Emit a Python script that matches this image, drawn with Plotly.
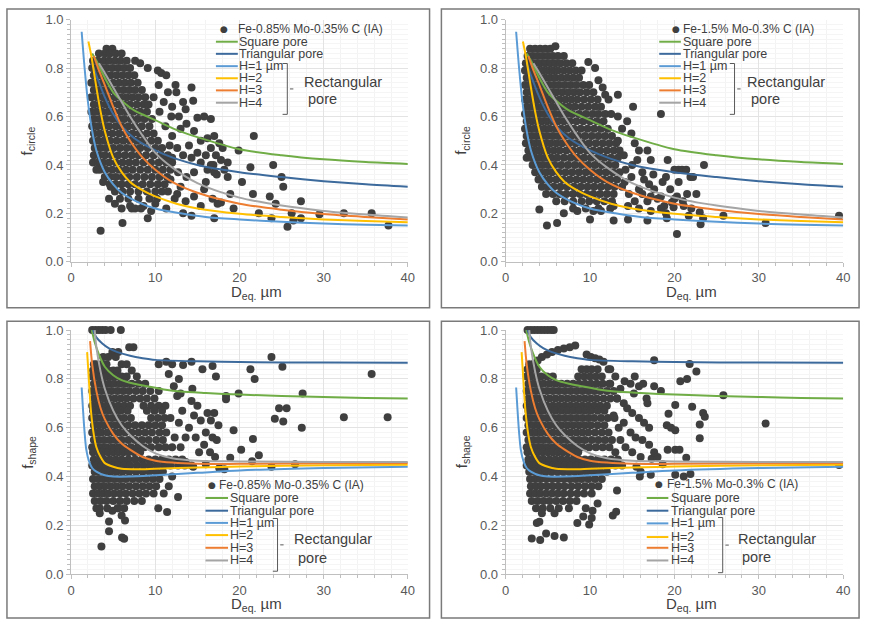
import plotly.graph_objects as go

# ---------------- data ----------------
# Top-left: f_circle, Fe-0.85% Mo-0.35% C (IA)
tl_blob_rows = [
    (0.88, [4.2, 4.9]),
    (0.86, [3.3, 4.0, 4.6, 5.3, 6.0]),
    (0.83, [2.6, 3.2, 3.9, 4.5, 5.2, 5.9, 6.6, 7.6]),
    (0.80, [2.5, 3.0, 3.6, 4.2, 4.9, 5.6, 6.3, 7.0]),
    (0.77, [2.7, 3.3, 4.0, 4.7, 5.4, 6.1, 6.8, 7.5]),
    (0.74, [2.4, 3.0, 3.7, 4.3, 5.0, 5.7, 6.4, 7.1, 7.9]),
    (0.71, [2.7, 3.4, 4.1, 4.8, 5.5, 6.2, 6.9, 7.6, 8.4]),
    (0.68, [2.4, 3.1, 3.8, 4.4, 5.2, 5.9, 6.6, 7.3, 8.0, 8.8]),
    (0.65, [2.7, 3.4, 4.1, 4.8, 5.6, 6.3, 7.0, 7.8, 8.6, 9.2]),
    (0.62, [2.4, 3.0, 3.7, 4.4, 5.1, 5.9, 6.6, 7.4, 8.2, 9.0]),
    (0.59, [2.7, 3.4, 4.1, 4.9, 5.6, 6.3, 7.1, 7.9, 8.7, 9.6]),
    (0.56, [2.5, 3.1, 3.8, 4.5, 5.3, 6.0, 6.8, 7.6, 8.4, 9.3]),
    (0.53, [2.7, 3.4, 4.1, 4.9, 5.7, 6.5, 7.3, 8.1, 9.0, 9.8]),
    (0.50, [2.6, 3.2, 3.9, 4.6, 5.4, 6.2, 7.0, 7.8, 8.6, 9.5, 10.3]),
    (0.47, [2.8, 3.5, 4.2, 5.0, 5.8, 6.6, 7.4, 8.2, 9.1, 10.0, 10.8]),
    (0.44, [2.7, 3.3, 4.0, 4.8, 5.6, 6.4, 7.2, 8.0, 8.9, 9.8, 10.7, 11.5]),
    (0.41, [2.6, 3.2, 3.8, 4.5, 5.3, 6.1, 6.9, 7.7, 8.6, 9.5, 10.4, 11.3, 12.0]),
    (0.38, [3.4, 4.1, 4.9, 5.7, 6.5, 7.3, 8.2, 9.1, 10.0, 10.9, 11.8]),
    (0.35, [4.0, 4.6, 5.3, 6.1, 6.9, 7.8, 8.7, 9.6, 10.5, 11.4]),
    (0.32, [4.6, 5.3, 6.0, 6.8, 7.6, 8.5, 9.4, 10.3, 11.1]),
    (0.29, [5.2, 6.1, 7.0, 8.0, 9.0, 10.0, 10.8]),
    (0.26, [5.8, 6.8, 8.0, 9.3, 10.2]),
    (0.23, [7.0, 8.6]),
]
tl_extra = [
    (8.2, 0.82), (9.1, 0.80), (10.3, 0.79), (10.7, 0.78), (11.3, 0.77), (10.4, 0.73), (11.5, 0.70),
    (12.4, 0.73), (12.5, 0.70), (13.3, 0.66), (14.3, 0.72), (14.5, 0.665), (12.0, 0.64), (11.0, 0.66),
    (13.7, 0.57), (14.6, 0.54), (15.0, 0.595), (15.8, 0.60), (16.6, 0.59), (15.4, 0.50), (16.2, 0.51),
    (17.0, 0.52), (17.6, 0.49), (16.6, 0.47), (17.8, 0.42), (18.2, 0.38), (17.0, 0.37), (16.2, 0.38),
    (15.4, 0.41), (13.3, 0.44), (14.3, 0.43), (14.6, 0.37), (13.7, 0.35), (12.7, 0.37), (18.6, 0.35),
    (15.8, 0.30), (14.6, 0.27), (15.4, 0.23), (12.3, 0.26), (11.5, 0.29), (13.0, 0.31), (12.6, 0.47),
    (12.0, 0.52), (11.2, 0.56), (13.0, 0.55), (3.5, 0.128), (6.1, 0.16), (9.1, 0.18), (4.5, 0.26),
    (4.7, 0.31), (7.2, 0.22), (7.6, 0.22), (11.3, 0.22), (13.3, 0.20), (14.3, 0.19), (17.0, 0.18),
    (17.8, 0.245), (18.9, 0.28), (19.3, 0.22), (19.9, 0.46), (20.3, 0.33), (21.7, 0.52), (21.3, 0.39),
    (21.6, 0.28), (22.3, 0.20), (23.6, 0.27), (23.8, 0.18), (24.0, 0.40), (24.3, 0.24), (25.0, 0.35),
    (25.2, 0.31), (25.7, 0.145), (26.2, 0.20), (26.4, 0.17), (27.3, 0.25), (27.3, 0.18), (29.5, 0.196),
    (32.4, 0.20), (35.7, 0.20), (37.7, 0.15), (9.8, 0.68), (10.5, 0.62), (12.8, 0.60), (16.6, 0.40),
    (17.3, 0.36), (16.0, 0.33), (14.0, 0.48), (15.0, 0.45), (16.0, 0.44), (17.2, 0.44), (18.6, 0.41),
    (18.0, 0.47), (12.0, 0.43), (11.8, 0.34), (12.6, 0.28), (13.6, 0.25), (16.8, 0.26), (17.4, 0.24),
    (10.0, 0.24), (9.5, 0.21), (8.3, 0.22), (5.2, 0.24), (6.0, 0.22), (3.0, 0.38), (3.8, 0.33),
    (16.9, 0.40), (10.9, 0.42), (11.7, 0.48), (13.6, 0.63), (11.9, 0.60),
]

# Top-right: f_circle, Fe-1.5% Mo-0.3% C (IA)
tr_blob_rows = [
    (0.88, [2.9, 3.5, 4.1, 4.7, 5.3]),
    (0.85, [2.6, 3.2, 3.8, 4.4, 5.0, 5.6, 6.2, 6.9]),
    (0.82, [2.4, 2.9, 3.5, 4.1, 4.7, 5.3, 5.9, 6.5, 7.2, 7.9]),
    (0.79, [2.3, 2.7, 3.2, 3.8, 4.4, 5.0, 5.6, 6.2, 6.9, 7.6, 8.3, 9.0]),
    (0.76, [2.5, 3.0, 3.5, 4.1, 4.7, 5.3, 5.9, 6.6, 7.3, 8.0, 8.7]),
    (0.73, [2.3, 2.8, 3.3, 3.9, 4.5, 5.1, 5.7, 6.3, 7.0, 7.7, 8.4, 9.2, 9.9]),
    (0.70, [2.5, 3.1, 3.6, 4.2, 4.8, 5.4, 6.0, 6.7, 7.4, 8.1, 8.8, 9.6, 10.4]),
    (0.67, [2.3, 2.8, 3.4, 3.9, 4.5, 5.1, 5.7, 6.4, 7.1, 7.8, 8.5, 9.3, 10.1, 10.9]),
    (0.64, [2.5, 3.1, 3.7, 4.3, 4.9, 5.5, 6.1, 6.8, 7.5, 8.2, 9.0, 9.8, 10.6, 11.3]),
    (0.61, [2.3, 2.8, 3.4, 4.0, 4.6, 5.2, 5.8, 6.5, 7.2, 7.9, 8.7, 9.5, 10.3, 11.0, 11.8]),
    (0.58, [2.5, 3.1, 3.7, 4.3, 4.9, 5.5, 6.2, 6.9, 7.6, 8.4, 9.2, 10.0, 10.8, 11.6]),
    (0.55, [2.3, 2.8, 3.4, 4.0, 4.6, 5.2, 5.9, 6.6, 7.3, 8.1, 8.9, 9.7, 10.5, 11.3, 12.1]),
    (0.52, [2.5, 3.1, 3.7, 4.3, 4.9, 5.6, 6.3, 7.0, 7.8, 8.6, 9.4, 10.2, 11.0, 11.8, 12.6]),
    (0.49, [2.4, 2.9, 3.5, 4.1, 4.7, 5.3, 6.0, 6.7, 7.5, 8.3, 9.1, 9.9, 10.7, 11.5, 12.3, 13.1]),
    (0.46, [2.7, 3.2, 3.8, 4.4, 5.0, 5.7, 6.4, 7.2, 8.0, 8.8, 9.6, 10.4, 11.2, 12.0, 12.8, 13.5]),
    (0.43, [2.5, 3.0, 3.5, 4.1, 4.7, 5.4, 6.1, 6.9, 7.7, 8.5, 9.3, 10.1, 10.9, 11.7, 12.5, 13.3]),
    (0.40, [3.2, 3.8, 4.4, 5.1, 5.8, 6.6, 7.4, 8.2, 9.0, 9.8, 10.6, 11.4, 12.2, 13.0]),
    (0.37, [3.5, 4.1, 4.8, 5.5, 6.3, 7.1, 7.9, 8.7, 9.5, 10.3, 11.1, 11.9, 12.7, 13.5]),
    (0.34, [3.9, 4.5, 5.2, 6.0, 6.8, 7.6, 8.4, 9.2, 10.0, 10.8, 11.6, 12.4, 13.2]),
    (0.31, [4.3, 5.0, 5.7, 6.5, 7.3, 8.1, 8.9, 9.7, 10.5, 11.3, 12.1, 12.9]),
    (0.28, [4.8, 5.6, 6.4, 7.2, 8.0, 8.8, 9.6, 10.4, 11.2, 12.0, 12.8]),
    (0.25, [6.0, 7.0, 8.0, 9.0, 9.9, 10.8, 11.7, 12.6]),
    (0.22, [8.0, 9.5, 11.0, 12.4]),
]
tr_extra = [
    (5.9, 0.89), (9.8, 0.825), (11.0, 0.75), (11.8, 0.69), (12.5, 0.61), (13.3, 0.69), (13.3, 0.60),
    (15.1, 0.64), (18.4, 0.61), (14.9, 0.53), (13.3, 0.50), (15.3, 0.49), (15.8, 0.46), (16.8, 0.46),
    (15.6, 0.42), (17.2, 0.42), (19.2, 0.42), (20.5, 0.38), (20.9, 0.38), (20.5, 0.33), (21.9, 0.35),
    (22.2, 0.35), (23.5, 0.40), (19.0, 0.35), (21.5, 0.28), (22.6, 0.28), (20.3, 0.27), (19.7, 0.245),
    (19.9, 0.225), (21.1, 0.23), (21.7, 0.19), (23.0, 0.205), (23.1, 0.155), (23.4, 0.18), (25.8, 0.19),
    (30.8, 0.16), (39.5, 0.19), (19.1, 0.18), (20.3, 0.115), (16.8, 0.25), (18.0, 0.26), (18.8, 0.23),
    (18.4, 0.27), (15.8, 0.30), (16.4, 0.34), (17.0, 0.32), (17.6, 0.30), (14.9, 0.35), (14.1, 0.33),
    (15.3, 0.25), (14.5, 0.23), (15.8, 0.22), (17.2, 0.21), (18.4, 0.22), (4.9, 0.15), (6.1, 0.16),
    (4.0, 0.216), (6.9, 0.20), (8.5, 0.21), (10.0, 0.175), (10.4, 0.21), (12.8, 0.17), (14.5, 0.175),
    (16.8, 0.17), (14.2, 0.38), (15.0, 0.40), (16.2, 0.37), (17.5, 0.36), (14.6, 0.28), (16.2, 0.28),
    (17.2, 0.27), (14.0, 0.44), (13.8, 0.55), (14.4, 0.58), (12.2, 0.67), (11.5, 0.72), (10.6, 0.80),
    (13.8, 0.31), (12.8, 0.23), (11.3, 0.21), (18.6, 0.33), (19.5, 0.30), (20.0, 0.26), (21.0, 0.25),
    (22.0, 0.22), (19.0, 0.20), (21.4, 0.38), (20.0, 0.38),
]

# Bottom-left: f_shape, Fe-0.85% Mo-0.35% C (IA)
bl_blob_rows = [
    (0.93, [6.9, 7.4]),
    (0.91, [4.9, 5.6]),
    (0.89, [3.8, 4.4, 5.3]),
    (0.86, [2.7, 3.0, 3.6, 4.2, 6.0, 6.6]),
    (0.835, [2.6, 3.2, 3.8, 4.4, 5.0, 5.5, 7.2]),
    (0.81, [2.5, 3.0, 3.6, 4.2, 4.8, 5.4, 6.0, 6.6, 7.8]),
    (0.78, [2.7, 3.3, 3.9, 4.5, 5.1, 5.8, 6.5, 7.2, 8.0, 8.8]),
    (0.75, [2.5, 3.0, 3.6, 4.2, 4.8, 5.5, 6.2, 6.9, 7.7, 8.5, 9.4, 10.4]),
    (0.72, [2.7, 3.3, 3.9, 4.5, 5.2, 5.9, 6.6, 7.4, 8.2, 9.0, 9.9]),
    (0.69, [2.5, 3.0, 3.6, 4.2, 4.9, 5.6, 6.3, 7.0, 8.6, 9.5, 10.4, 11.2]),
    (0.67, [2.6, 3.2, 3.8, 4.5, 5.2, 5.9, 6.7, 9.0, 9.9, 10.8]),
    (0.64, [2.5, 3.0, 3.6, 4.2, 4.9, 5.6, 6.3, 7.1, 9.5, 10.3, 11.1]),
    (0.61, [2.7, 3.3, 3.9, 4.6, 5.3, 6.0, 6.8, 7.6, 8.4, 9.2, 10.0, 10.8]),
    (0.58, [2.5, 3.0, 3.6, 4.3, 5.0, 5.7, 6.4, 7.2, 8.0, 8.8, 9.6, 10.5, 11.3]),
    (0.55, [2.7, 3.3, 3.9, 4.6, 5.3, 6.0, 6.8, 7.6, 8.4, 9.2, 10.1, 10.9]),
    (0.52, [2.5, 3.0, 3.6, 4.2, 4.9, 5.6, 6.3, 7.1, 7.9, 8.7, 9.5, 10.4, 11.2, 12.0]),
    (0.50, [2.6, 3.2, 3.8, 4.4, 5.0, 5.6, 6.2, 6.8, 7.5, 8.2]),
    (0.47, [2.7, 3.3, 3.9, 4.6, 5.3, 6.0, 6.8, 7.6, 8.4, 9.2, 10.0, 10.8, 11.6, 12.4, 13.2]),
    (0.445, [2.5, 3.0, 3.6, 4.2, 4.9, 5.6, 6.3, 7.0, 7.8, 8.6, 9.4, 10.2, 11.0, 11.8, 12.7, 13.5, 14.3]),
    (0.42, [2.8, 3.4, 4.0, 4.7, 5.4, 6.1, 6.9, 7.7, 8.5, 9.3, 10.1, 10.9]),
    (0.39, [2.6, 3.2, 3.8, 4.4, 5.1, 5.8, 6.5, 7.3, 8.1, 8.9, 9.7, 10.5]),
    (0.36, [2.8, 3.4, 4.0, 4.7, 5.4, 6.1, 6.9, 7.7, 8.5, 9.3, 10.1]),
    (0.33, [2.6, 3.2, 3.8, 4.4, 5.1, 5.8, 6.5, 7.3, 8.1, 8.9, 9.8]),
    (0.30, [2.8, 3.5, 4.2, 5.0, 5.8, 6.6, 7.5, 8.4]),
    (0.27, [3.0, 3.4, 4.3, 5.5, 6.3]),
]
bl_extra = [
    (2.5, 1.0), (2.9, 1.0), (3.3, 1.0), (3.7, 1.0), (4.1, 1.0), (4.7, 1.0), (5.9, 1.0),
    (3.6, 0.113), (4.5, 0.176), (6.05, 0.15), (6.3, 0.145), (4.5, 0.216), (4.9, 0.26), (6.4, 0.22),
    (3.4, 0.25), (6.0, 0.24), (5.6, 0.27), (10.35, 0.27), (11.4, 0.255), (12.7, 0.316), (11.0, 0.33),
    (11.6, 0.36), (12.0, 0.40), (14.3, 0.87), (15.6, 0.84), (16.8, 0.853), (17.2, 0.81), (13.3, 0.857),
    (21.3, 0.84), (21.8, 0.80), (23.8, 0.89), (25.1, 0.85), (35.7, 0.82), (18.4, 0.73), (18.4, 0.717),
    (19.9, 0.74), (27.5, 0.74), (24.2, 0.637), (24.7, 0.68), (25.6, 0.68), (25.2, 0.626), (27.4, 0.60),
    (32.4, 0.643), (37.6, 0.643), (21.6, 0.554), (20.2, 0.51), (22.3, 0.487), (21.5, 0.463),
    (18.9, 0.477), (19.3, 0.59), (23.8, 0.44), (26.6, 0.45), (17.6, 0.434), (18.2, 0.43),
    (14.3, 0.71), (15.0, 0.69), (14.6, 0.65), (15.4, 0.63), (16.2, 0.66), (16.6, 0.63), (17.0, 0.66),
    (17.5, 0.61), (16.0, 0.58), (16.8, 0.56), (17.3, 0.55), (15.8, 0.53), (15.2, 0.50), (16.5, 0.50),
    (17.1, 0.48), (14.5, 0.44), (13.6, 0.46), (13.6, 0.56), (14.0, 0.60), (12.8, 0.62), (13.2, 0.67),
    (12.6, 0.73), (12.2, 0.77), (12.8, 0.80), (11.6, 0.82), (10.4, 0.86), (11.3, 0.87), (12.0, 0.86),
    (13.0, 0.74), (14.4, 0.76), (11.8, 0.64), (12.3, 0.56), (13.0, 0.52), (14.8, 0.56), (16.0, 0.45),
]

# Bottom-right: f_shape, Fe-1.5% Mo-0.3% C (IA)
br_blob_rows = [
    (0.86, [2.8, 3.3]),
    (0.84, [2.6, 3.1, 3.7, 9.0, 9.6, 10.2, 10.9, 12.4]),
    (0.81, [2.5, 3.0, 3.6, 4.2, 4.9, 5.6, 8.6, 9.3, 10.0, 10.7, 11.4]),
    (0.78, [2.7, 3.3, 3.9, 4.5, 5.2, 5.9, 6.6, 7.3, 8.0, 8.7, 9.4, 10.1, 10.8, 11.5, 12.3]),
    (0.75, [2.5, 3.0, 3.6, 4.2, 4.9, 5.6, 6.3, 7.0, 7.7, 8.4, 9.1, 9.8, 10.5, 11.2, 12.0, 12.8]),
    (0.72, [2.7, 3.3, 3.9, 4.5, 5.2, 5.9, 6.6, 7.3, 8.0, 8.7, 9.4, 10.1, 10.8, 11.6, 12.4, 13.2]),
    (0.69, [2.5, 3.0, 3.6, 4.2, 4.9, 5.6, 6.3, 7.0, 7.7, 8.4, 9.1, 9.8, 10.5, 11.2, 12.0]),
    (0.67, [2.7, 3.3, 3.9, 4.5, 5.2, 5.9, 6.6, 7.3, 8.0, 8.7, 9.4, 10.1, 10.9, 11.7]),
    (0.64, [2.5, 3.0, 3.6, 4.2, 4.9, 5.6, 6.3, 7.0, 7.7, 8.4, 9.1, 9.8, 10.5, 11.3, 12.1, 12.9]),
    (0.61, [2.7, 3.3, 3.9, 4.5, 5.2, 5.9, 6.6, 7.3, 8.0, 8.7, 9.4, 10.1, 10.9, 11.7]),
    (0.58, [2.5, 3.0, 3.6, 4.2, 4.9, 5.6, 6.3, 7.0, 7.7, 8.4, 9.1, 9.8, 10.6, 11.4, 12.2]),
    (0.55, [2.7, 3.3, 3.9, 4.5, 5.2, 5.9, 6.6, 7.3, 8.0, 8.7, 9.4, 10.2, 11.0, 11.8, 12.6]),
    (0.52, [2.5, 3.0, 3.6, 4.2, 4.9, 5.6, 6.3, 7.0, 7.7, 8.4, 9.1, 9.9, 10.7, 11.5, 12.3]),
    (0.50, [2.6, 3.2, 3.8, 4.4, 5.0, 5.6, 6.2, 6.8, 7.4, 8.0, 8.6]),
    (0.47, [2.7, 3.3, 3.9, 4.5, 5.2, 5.9, 6.6, 7.3, 8.0, 8.7, 9.4, 10.1, 10.9, 11.7, 12.5, 13.3]),
    (0.445, [2.5, 3.0, 3.6, 4.2, 4.9, 5.6, 6.3, 7.0, 7.7, 8.4, 9.1, 9.8, 10.6, 11.4, 12.2, 13.0, 13.8]),
    (0.42, [2.8, 3.4, 4.0, 4.7, 5.4, 6.1, 6.8, 7.5, 8.2, 8.9, 9.6, 10.4, 11.2, 12.0]),
    (0.39, [2.9, 3.5, 4.1, 4.8, 5.5, 6.2, 6.9, 7.6, 8.3, 9.0, 9.8, 10.6, 11.4]),
    (0.36, [3.0, 3.6, 4.2, 4.9, 5.6, 6.3, 7.0, 7.8, 8.6, 9.4, 10.2, 11.0]),
    (0.33, [2.9, 3.5, 4.1, 4.8, 5.5, 6.2, 6.9, 7.7, 8.5, 9.3, 10.2]),
    (0.30, [3.1, 3.8, 4.5, 5.2, 6.0, 6.8, 7.6, 8.4]),
    (0.27, [3.6, 4.4, 5.3, 6.3]),
]
br_extra = [
    (2.6, 1.0), (3.0, 1.0), (3.4, 1.0), (3.8, 1.0), (4.2, 1.0), (4.6, 1.0), (5.0, 1.0), (5.4, 1.0),
    (5.7, 1.0), (8.25, 0.937), (7.6, 0.93), (6.9, 0.925), (6.2, 0.918), (5.5, 0.91), (4.9, 0.90),
    (4.3, 0.89), (3.8, 0.875), (3.3, 0.86), (9.6, 0.90), (10.1, 0.89), (10.6, 0.885), (11.1, 0.88),
    (3.1, 0.146), (4.1, 0.14), (4.8, 0.167), (5.8, 0.156), (6.9, 0.15), (3.7, 0.21), (4.0, 0.215),
    (5.8, 0.25), (4.3, 0.25), (8.5, 0.21), (9.2, 0.236), (9.9, 0.203), (10.2, 0.23), (10.3, 0.26),
    (12.7, 0.24), (13.1, 0.256), (13.2, 0.343), (10.9, 0.29), (7.5, 0.27), (9.5, 0.27),
    (17.6, 0.877), (21.8, 0.861), (22.6, 0.83), (21.5, 0.80), (20.7, 0.79), (17.6, 0.77), (18.4, 0.75),
    (16.7, 0.72), (16.8, 0.70), (19.3, 0.657), (20.1, 0.693), (22.1, 0.686), (23.4, 0.66),
    (23.6, 0.645), (25.8, 0.733), (30.8, 0.617), (39.5, 0.447), (23.0, 0.613), (23.0, 0.557),
    (19.1, 0.61), (19.6, 0.60), (20.1, 0.59), (19.2, 0.51), (20.1, 0.51), (20.6, 0.51), (21.4, 0.477),
    (20.1, 0.407), (21.1, 0.40), (21.9, 0.41), (17.2, 0.407), (16.0, 0.42), (15.5, 0.44), (15.9, 0.40),
    (18.6, 0.45), (17.3, 0.473), (18.0, 0.48), (14.1, 0.79), (14.8, 0.78), (15.3, 0.81), (15.8, 0.77),
    (16.3, 0.78), (13.6, 0.76), (15.2, 0.74), (14.0, 0.70), (14.4, 0.68), (15.0, 0.66), (15.8, 0.64),
    (16.4, 0.62), (17.0, 0.60), (14.0, 0.62), (14.8, 0.58), (15.4, 0.56), (16.2, 0.55), (17.0, 0.53),
    (17.6, 0.50), (13.6, 0.55), (14.2, 0.52), (15.0, 0.50), (16.0, 0.48), (13.0, 0.50), (13.4, 0.60),
    (12.8, 0.65), (13.2, 0.72), (12.4, 0.78), (13.0, 0.81), (12.2, 0.84), (11.6, 0.87),
]

# Model curves, f_circle (top panels)
circ_square = [(2.5, 0.86), (3.0, 0.83), (4.0, 0.76), (5.0, 0.70), (6.0, 0.665), (7.5, 0.625), (10, 0.585),
               (12.5, 0.545), (15, 0.515), (20, 0.465), (25, 0.44), (30, 0.423), (35, 0.412), (40, 0.404)]
circ_tri = [(2.5, 0.82), (3.0, 0.77), (4.0, 0.68), (5.0, 0.61), (6.0, 0.56), (7.5, 0.51), (10, 0.46),
            (12.5, 0.425), (15, 0.40), (20, 0.37), (25, 0.35), (30, 0.333), (35, 0.32), (40, 0.31)]
circ_h1 = [(1.25, 0.95), (1.6, 0.80), (2.0, 0.66), (2.5, 0.54), (3.0, 0.46), (4.0, 0.37), (5.0, 0.32),
           (6.0, 0.285), (8.0, 0.245), (10, 0.22), (13, 0.20), (16, 0.185), (20, 0.175), (25, 0.165),
           (30, 0.158), (35, 0.153), (40, 0.15)]
circ_h2 = [(2.05, 0.91), (2.4, 0.85), (3.0, 0.72), (3.5, 0.62), (4.0, 0.54), (5.0, 0.43), (6.0, 0.37),
           (7.0, 0.33), (8.5, 0.295), (10, 0.27), (12.5, 0.24), (15, 0.22), (20, 0.198), (25, 0.185),
           (30, 0.175), (35, 0.168), (40, 0.163)]
circ_h3 = [(2.7, 0.85), (3.2, 0.80), (4.0, 0.73), (5.0, 0.64), (6.0, 0.56), (7.0, 0.50), (8.5, 0.43),
           (10, 0.38), (12, 0.33), (15, 0.285), (20, 0.24), (25, 0.215), (30, 0.197), (35, 0.185), (40, 0.175)]
circ_h4 = [(3.3, 0.82), (4.0, 0.78), (5.0, 0.72), (6.0, 0.66), (7.0, 0.60), (8.5, 0.52), (10, 0.45),
           (12, 0.39), (15, 0.325), (20, 0.265), (25, 0.232), (30, 0.21), (35, 0.195), (40, 0.183)]

# Model curves, f_shape (bottom panels)
shape_square = [(2.45, 1.0), (2.8, 0.95), (3.3, 0.90), (4.0, 0.85), (5.0, 0.815), (6.0, 0.795), (7.5, 0.78),
                (9, 0.77), (11, 0.757), (13, 0.748), (16, 0.742), (20, 0.736), (25, 0.73), (30, 0.726),
                (35, 0.722), (40, 0.72)]
shape_tri = [(2.6, 1.0), (3.0, 0.97), (3.7, 0.945), (4.5, 0.925), (5.5, 0.91), (7.0, 0.895), (8.5, 0.885),
             (10, 0.878), (15, 0.872), (20, 0.869), (30, 0.867), (40, 0.866)]
shape_h1 = [(1.25, 0.765), (1.4, 0.68), (1.6, 0.58), (1.8, 0.51), (2.1, 0.465), (2.5, 0.435), (3.0, 0.42),
            (4.0, 0.405), (5.0, 0.40), (7.0, 0.40), (10, 0.405), (15, 0.415), (20, 0.425), (30, 0.435), (40, 0.44)]
shape_h2 = [(1.9, 0.91), (2.1, 0.80), (2.35, 0.67), (2.7, 0.57), (3.0, 0.52), (3.5, 0.48), (4.0, 0.455),
            (5.0, 0.44), (6.0, 0.432), (8.0, 0.43), (10, 0.432), (15, 0.437), (20, 0.441), (30, 0.446), (40, 0.448)]
shape_h3 = [(2.25, 0.955), (2.5, 0.86), (3.0, 0.75), (3.5, 0.68), (4.0, 0.635), (5.0, 0.575), (6.0, 0.535),
            (7.0, 0.51), (8.5, 0.48), (10, 0.465), (12, 0.457), (15, 0.452), (20, 0.452), (30, 0.454), (40, 0.455)]
shape_h4 = [(2.8, 1.0), (3.0, 0.93), (3.5, 0.83), (4.0, 0.76), (5.0, 0.67), (6.0, 0.61), (7.0, 0.57),
            (8.5, 0.525), (10, 0.495), (12, 0.475), (15, 0.465), (20, 0.462), (30, 0.46), (40, 0.46)]

series_names = ["Square pore", "Triangular pore", "H=1 µm", "H=2", "H=3", "H=4"]
series_colors = ["#70ad47", "#3c6a9c", "#5b9bd5", "#ffc000", "#ed7d31", "#a5a5a5"]
alloy_labels = ["Fe-0.85% Mo-0.35% C (IA)", "Fe-1.5% Mo-0.3% C (IA)"]
x_ticks = [0, 10, 20, 30, 40]
y_ticks = [0.0, 0.2, 0.4, 0.6, 0.8, 1.0]

# ---------------- figure ----------------
W, H = 871, 629
DOT = "#3f3f3f"
TXT = "#404040"
FONT = "Liberation Sans, Arial, sans-serif"


def expand(rows, extra):
    xs, ys = [], []
    for y, xlist in rows:
        for x in xlist:
            xs.append(x)
            ys.append(y)
    for x, y in extra:
        xs.append(x)
        ys.append(y)
    return xs, ys


# pixel geometry of plot areas: (left, right, top, bottom)
panels = [
    dict(box=(68, 409, 13, 261), rows=tl_blob_rows, extra=tl_extra, curves="circ", alloy=0),
    dict(box=(508, 850, 13, 261), rows=tr_blob_rows, extra=tr_extra, curves="circ", alloy=1),
    dict(box=(68, 409, 331, 581), rows=bl_blob_rows, extra=bl_extra, curves="shape", alloy=0),
    dict(box=(508, 850, 331, 581), rows=br_blob_rows, extra=br_extra, curves="shape", alloy=1),
]
curve_sets = {
    "circ": [circ_square, circ_tri, circ_h1, circ_h2, circ_h3, circ_h4],
    "shape": [shape_square, shape_tri, shape_h1, shape_h2, shape_h3, shape_h4],
}

fig = go.Figure()
layout = dict(
    width=W, height=H, margin=dict(l=0, r=0, t=0, b=0),
    paper_bgcolor="white", plot_bgcolor="white", showlegend=False,
    font=dict(family=FONT, color=TXT),
)
shapes, annotations = [], []

for i, p in enumerate(panels):
    n = i + 1
    xa = "xaxis" if n == 1 else f"xaxis{n}"
    ya = "yaxis" if n == 1 else f"yaxis{n}"
    xr = "x" if n == 1 else f"x{n}"
    yr = "y" if n == 1 else f"y{n}"
    l, r, t, b = p["box"]
    layout[xa] = dict(
        domain=[l / W, r / W], anchor=yr, range=[0, 40], tickvals=x_ticks,
        showline=True, linecolor="#bfbfbf", linewidth=1, ticks="outside", ticklen=4,
        tickcolor="#bfbfbf", showgrid=True, gridcolor="#e3e3e3", zeroline=False,
        tickfont=dict(size=13, color="#595959", family=FONT),
        minor=dict(dtick=2, ticks="outside", ticklen=3, tickcolor="#bfbfbf",
                   showgrid=True, gridcolor="#f3f3f3"),
        fixedrange=True,
    )
    layout[ya] = dict(
        domain=[1 - b / H, 1 - t / H], anchor=xr, range=[0, 1], tickvals=y_ticks,
        tickformat=".1f", showline=True, linecolor="#bfbfbf", linewidth=1,
        ticks="outside", ticklen=4, tickcolor="#bfbfbf", showgrid=True,
        gridcolor="#e3e3e3", zeroline=False,
        tickfont=dict(size=13, color="#595959", family=FONT),
        minor=dict(dtick=0.02, ticks="outside", ticklen=3, tickcolor="#bfbfbf",
                   showgrid=True, gridcolor="#f5f5f5"),
        fixedrange=True,
    )
    xs, ys = expand(p["rows"], p["extra"])
    fig.add_trace(go.Scatter(
        x=xs, y=ys, mode="markers", xaxis=xr, yaxis=yr, cliponaxis=False,
        marker=dict(size=8, color=DOT, line=dict(width=0)),
        name=alloy_labels[p["alloy"]],
    ))
    for name, col, pts in zip(series_names, series_colors, curve_sets[p["curves"]]):
        fig.add_trace(go.Scatter(
            x=[q[0] for q in pts], y=[q[1] for q in pts], mode="lines",
            xaxis=xr, yaxis=yr, name=name,
            line=dict(color=col, width=2, shape="spline", smoothing=0.8),
        ))

    # panel frame
    shapes.append(dict(type="rect", xref="paper", yref="paper",
                       x0=(l - 65) / W, x1=(r + 22 if n % 2 else r + 16) / W,
                       y0=1 - (b + 47 if n <= 2 else b + 45) / H, y1=1 - (t - 11 if n <= 2 else t - 9) / H,
                       line=dict(color="#7a7a7a", width=1.5), layer="below"))

    # axis titles
    annotations.append(dict(
        xref="paper", yref="paper", x=(l + r) / 2 / W + 17 / W, y=1 - (b + 31) / H,
        text="D<sub>eq.</sub> µm", showarrow=False, font=dict(size=15, color=TXT, family=FONT),
        xanchor="center", yanchor="middle"))
    annotations.append(dict(
        xref="paper", yref="paper", x=(l - 44) / W, y=1 - (t + b) / 2 / H,
        text="f<sub>" + ("circle" if p["curves"] == "circ" else "shape") + "</sub>",
        textangle=-90, showarrow=False, font=dict(size=15, color=TXT, family=FONT),
        xanchor="center", yanchor="middle"))

# --- manual in-plot legends (domain coordinates) ---
legend_cfg = [
    dict(dot=0.455, mtext=0.492, l0=0.430, l1=0.495, ltext=0.497,
         ys=[0.96, 0.909, 0.859, 0.808, 0.758, 0.708, 0.657],
         br_x=0.642, br_top=0.819, br_bot=0.609, rx=0.688, ry1=0.742, ry2=0.673),
    dict(dot=0.506, mtext=0.522, l0=0.455, l1=0.519, ltext=0.522,
         ys=[0.96, 0.909, 0.859, 0.808, 0.758, 0.708, 0.657],
         br_x=0.678, br_top=0.819, br_bot=0.609, rx=0.713, ry1=0.742, ry2=0.673),
    dict(dot=0.419, mtext=0.437, l0=0.399, l1=0.466, ltext=0.469,
         ys=[0.364, 0.312, 0.26, 0.21, 0.16, 0.108, 0.056],
         br_x=0.613, br_top=0.228, br_bot=0.012, rx=0.66, ry1=0.144, ry2=0.068),
    dict(dot=0.453, mtext=0.474, l0=0.418, l1=0.482, ltext=0.488,
         ys=[0.368, 0.312, 0.26, 0.208, 0.152, 0.108, 0.056],
         br_x=0.643, br_top=0.232, br_bot=0.006, rx=0.684, ry1=0.144, ry2=0.072),
]
for i, (p, c) in enumerate(zip(panels, legend_cfg)):
    n = i + 1
    xd = ("x" if n == 1 else f"x{n}") + " domain"
    yd = ("y" if n == 1 else f"y{n}") + " domain"
    annotations.append(dict(xref=xd, yref=yd, x=c["dot"], y=c["ys"][0], text="●", showarrow=False,
                            font=dict(size=9, color=DOT, family="DejaVu Sans"), borderpad=0,
                            xanchor="center", yanchor="middle"))
    annotations.append(dict(xref=xd, yref=yd, x=c["mtext"], y=c["ys"][0], text=alloy_labels[p["alloy"]],
                            showarrow=False, font=dict(size=12, color=TXT, family=FONT), borderpad=0,
                            xanchor="left", yanchor="middle"))
    for k, (name, col) in enumerate(zip(series_names, series_colors)):
        yy = c["ys"][k + 1]
        shapes.append(dict(type="line", xref=xd, yref=yd, x0=c["l0"], x1=c["l1"], y0=yy, y1=yy,
                           line=dict(color=col, width=2)))
        annotations.append(dict(xref=xd, yref=yd, x=c["ltext"], y=yy, text=name, showarrow=False,
                                font=dict(size=12.5, color=TXT, family=FONT), borderpad=0,
                                xanchor="left", yanchor="middle"))
    bx, bt, bb = c["br_x"], c["br_top"], c["br_bot"]
    mid = (bt + bb) / 2
    hook = 0.014
    shapes.append(dict(type="path", xref=xd, yref=yd,
                       path=f"M {bx - hook},{bt} L {bx},{bt} L {bx},{bb} L {bx - hook},{bb}",
                       line=dict(color="#595959", width=1)))
    shapes.append(dict(type="line", xref=xd, yref=yd, x0=bx + 0.008, x1=bx + 0.018, y0=mid, y1=mid,
                       line=dict(color="#595959", width=1)))
    annotations.append(dict(xref=xd, yref=yd, x=c["rx"], y=c["ry1"], text="Rectangular", showarrow=False,
                            font=dict(size=14.5, color=TXT, family=FONT), borderpad=0,
                            xanchor="left", yanchor="middle"))
    annotations.append(dict(xref=xd, yref=yd, x=c["rx"] + 0.012, y=c["ry2"], text="pore", showarrow=False,
                            font=dict(size=14.5, color=TXT, family=FONT), borderpad=0,
                            xanchor="left", yanchor="middle"))

layout["shapes"] = shapes
layout["annotations"] = annotations
fig.update_layout(**layout)
fig.write_html("out.html")
